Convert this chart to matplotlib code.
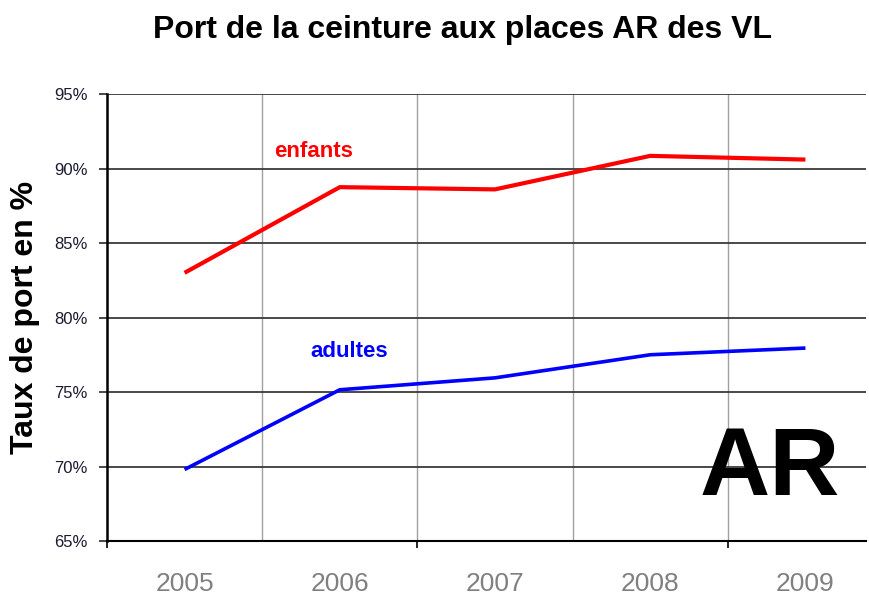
import matplotlib
matplotlib.use('Agg')
import matplotlib.pyplot as plt

plt.rcParams['font.family'] = ['Liberation Sans', 'DejaVu Sans']

# donnees
annees = ['2005', '2006', '2007', '2008', '2009']
enfants = [83.0, 88.75, 88.6, 90.85, 90.6]
adultes = [69.8, 75.15, 75.95, 77.5, 77.95]
yticks = [65, 70, 75, 80, 85, 90, 95]

fig = plt.figure(figsize=(8.69, 5.97), dpi=100)
ax = fig.add_axes([0.1231, 0.0938, 0.8734, 0.7487])

x = list(range(len(annees)))

# grille : verticales grises entre les annees, horizontales foncees
for b in range(len(annees) - 1):
    ax.axvline(b + 0.5, color='#a0a0a0', lw=1.0, zorder=1)
for v in yticks:
    ax.axhline(v, color='#3a3a3a', lw=1.3, zorder=1)

ax.plot(x, enfants, color='#ff0000', lw=3, zorder=3, solid_capstyle='butt')
ax.plot(x, adultes, color='#0000ff', lw=2.6, zorder=3, solid_capstyle='butt')

ax.text(0.83, 90.8, 'enfants', color='#ff0000', fontsize=16, fontweight='bold',
        ha='center', va='baseline')
ax.text(1.06, 77.35, 'adultes', color='#0000ff', fontsize=16, fontweight='bold',
        ha='center', va='baseline')
ax.text(3.77, 68.1, 'AR', color='black', fontsize=70, fontweight='bold',
        ha='center', va='baseline')

ax.set_xlim(-0.5, 4.39)
ax.set_ylim(65, 95)

ax.set_xticks(x)
ax.set_xticklabels(annees, fontsize=19, color='#808080')
ax.tick_params(axis='x', length=0, pad=22)
ax.set_xticks([-0.5, 1.5, 3.5], minor=True)
ax.tick_params(axis='x', which='minor', length=5, width=1.2, color='black')

ax.set_yticks(yticks)
ax.set_yticklabels(['%d%%' % v for v in yticks], fontsize=12, color='#1a1a30')
ax.tick_params(axis='y', length=6, width=1.3, color='#3a3a3a', pad=8)

for s in ['top', 'right']:
    ax.spines[s].set_visible(False)
ax.spines['left'].set_linewidth(1.8)
ax.spines['bottom'].set_linewidth(1.5)
ax.spines['left'].set_zorder(4)

ax.set_ylabel('Taux de port en %', fontsize=23, fontweight='bold')
ax.yaxis.set_label_coords(-0.088, 0.5)

fig.text(0.532, 0.95, 'Port de la ceinture aux places AR des VL', fontsize=23,
         fontweight='bold', ha='center', va='center')

fig.savefig('out.png', dpi=100)
